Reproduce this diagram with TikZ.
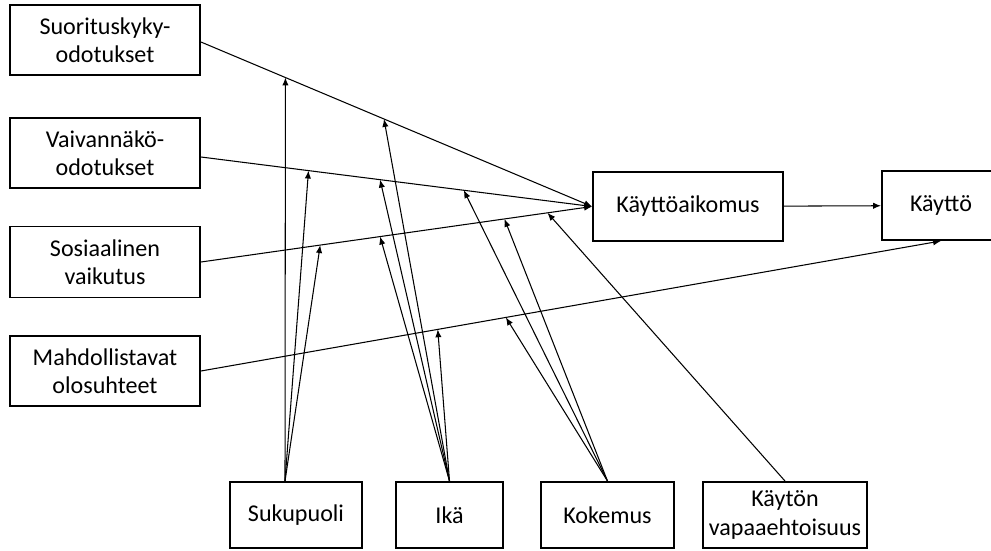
\documentclass[tikz,border=0pt]{standalone}
\usepackage{fontspec}
\setmainfont{Carlito}
\usetikzlibrary{arrows.meta}
\begin{document}
\begin{tikzpicture}[x=0.02cm,y=-0.02cm,
  >={Latex[length=4.5pt,width=3.6pt]},
  box/.style={draw,line width=1.1pt,align=center,inner sep=0pt,
    font=\fontsize{13.7}{16}\selectfont},
  pfeil/.style={->,line width=0.6pt}]
\useasboundingbox (0,0) rectangle (991,551);
% Kästen links
\node[box,minimum width=3.8cm,minimum height=1.4cm] (suo) at (105,40) {Suorituskyky-\\odotukset};
\node[box,minimum width=3.8cm,minimum height=1.4cm] (vai) at (105,153) {Vaivannäkö-\\odotukset};
\node[box,minimum width=3.8cm,minimum height=1.42cm] (sos) at (105,262) {Sosiaalinen\\vaikutus};
\node[box,minimum width=3.8cm,minimum height=1.4cm] (mah) at (105,371) {Mahdollistavat\\olosuhteet};
% Kästen rechts
\node[box,minimum width=3.8cm,minimum height=1.38cm] (aik) at (688,206.5) {Käyttöaikomus};
\node[box,minimum width=2.36cm,minimum height=1.38cm] (kay) at (941,205.5) {Käyttö};
% Kästen unten
\node[box,minimum width=2.64cm,minimum height=1.32cm] (suk) at (296,515) {Sukupuoli};
\node[box,minimum width=2.14cm,minimum height=1.32cm] (ika) at (449.5,515) {Ikä};
\node[box,minimum width=2.66cm,minimum height=1.32cm] (kok) at (607.5,515) {Kokemus};
\node[box,minimum width=3.28cm,minimum height=1.32cm] (vap) at (785,515) {Käytön\\vapaaehtoisuus};
% Hauptpfeile
\draw[pfeil] ([yshift=-0.04cm]suo.east) -- (aik.west) coordinate[pos=0.216] (s1) coordinate[pos=0.468] (s2);
\draw[pfeil] ([yshift=-0.08cm]vai.east) -- (aik.west) coordinate[pos=0.275] (v1) coordinate[pos=0.458] (v2) coordinate[pos=0.672] (v3);
\draw[pfeil] (sos.east) -- (aik.west) coordinate[pos=0.305] (o1) coordinate[pos=0.458] (o2) coordinate[pos=0.776] (o3) coordinate[pos=0.886] (o4);
\draw[pfeil] (mah.east) -- (kay.south) coordinate[pos=0.32] (m1) coordinate[pos=0.412] (m2);
\draw[pfeil] (aik) -- (kay);
% Moderatoren
\draw[pfeil] ([xshift=-0.22cm]suk.north) -- (s1);
\draw[pfeil] ([xshift=-0.22cm]suk.north) -- (v1);
\draw[pfeil] ([xshift=-0.22cm]suk.north) -- (o1);
\draw[pfeil] (ika.north) -- (s2);
\draw[pfeil] (ika.north) -- (v2);
\draw[pfeil] (ika.north) -- (o2);
\draw[pfeil] (ika.north) -- (m1);
\draw[pfeil] (kok.north) -- (v3);
\draw[pfeil] (kok.north) -- (o3);
\draw[pfeil] (kok.north) -- (m2);
\draw[pfeil] (vap.north) -- (o4);
\end{tikzpicture}
\end{document}
